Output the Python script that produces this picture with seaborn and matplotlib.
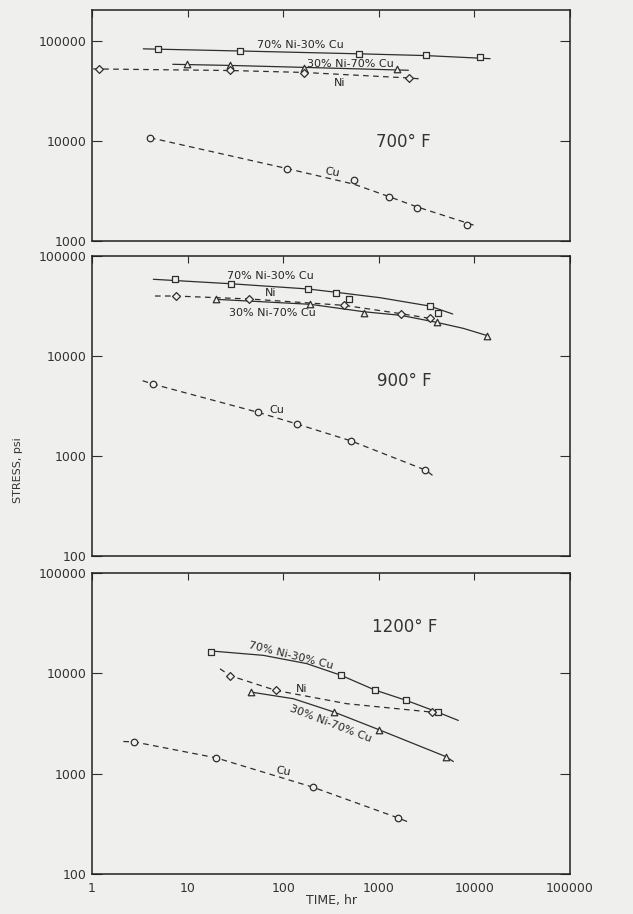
import matplotlib
matplotlib.use('Agg')
from matplotlib import pyplot as plt
from matplotlib.ticker import FixedLocator, NullLocator
import seaborn as sns

BG = '#efefed'
INK = '#2e2e2e'

# ---- 700 F ----
T700_A_X = [4.9, 35, 617, 3120, 11450]          # 70% Ni-30% Cu
T700_A_Y = [83000, 79400, 74100, 72000, 68700]
T700_A_LX = [3.44, 35, 617, 3120, 14600]
T700_A_LY = [83500, 79500, 74500, 71500, 66600]
T700_B_X = [9.9, 27.8, 165, 1540]               # 30% Ni-70% Cu
T700_B_Y = [59300, 57100, 54100, 52100]
T700_B_LX = [7.0, 27.8, 165, 2040]
T700_B_LY = [58500, 57000, 54500, 51000]
T700_NI_X = [1.18, 27.8, 165, 2070]
T700_NI_Y = [52500, 50900, 47900, 42400]
T700_NI_LX = [1.03, 27.8, 165, 2070, 2810]
T700_NI_LY = [52600, 50700, 48500, 42700, 41700]
T700_CU_X = [4.04, 110, 550, 1280, 2490, 8300]
T700_CU_Y = [10800, 5250, 4050, 2780, 2150, 1445]
T700_CU_LX = [4.04, 110, 550, 1280, 2490, 10600]
T700_CU_LY = [10800, 5300, 3700, 2780, 2200, 1410]

# ---- 900 F ----
T900_A_X = [7.4, 28.4, 182, 357, 492, 3400, 4130]
T900_A_Y = [58900, 52900, 46800, 43000, 36900, 31600, 26700]
T900_A_LX = [4.38, 28.4, 182, 356, 1030, 3400, 5930]
T900_A_LY = [58500, 52800, 46800, 43400, 38300, 31600, 26300]
T900_NI_X = [7.5, 44, 436, 1710, 3400]
T900_NI_Y = [39800, 37200, 32100, 26500, 23800]
T900_NI_LX = [4.56, 7.5, 44, 436, 1710, 3400, 3720]
T900_NI_LY = [39800, 39800, 37200, 32100, 26500, 23800, 23400]
T900_B_X = [19.7, 191, 700, 4030, 13600]
T900_B_Y = [36900, 32900, 26700, 21700, 16000]
T900_B_LX = [19.7, 191, 700, 1710, 4030, 7650, 13600]
T900_B_LY = [36900, 32900, 27700, 25500, 21700, 18900, 16000]
T900_CU_X = [4.3, 54.5, 139, 508, 3070]
T900_CU_Y = [5250, 2735, 2090, 1420, 724]
T900_CU_LX = [3.39, 4.3, 54.5, 139, 508, 3070, 3810]
T900_CU_LY = [5660, 5250, 2735, 2090, 1420, 724, 621]

# ---- 1200 F ----
T1200_A_X = [17.6, 403, 912, 1940, 4130]
T1200_A_Y = [16300, 9550, 6810, 5370, 4100]
T1200_A_LX = [17.6, 62, 176, 403, 912, 1940, 4130, 6790]
T1200_A_LY = [16700, 15100, 12500, 9550, 6810, 5370, 4100, 3390]
T1200_NI_X = [27.8, 83.5, 3630]
T1200_NI_Y = [9480, 6760, 4100]
T1200_NI_LX = [21.8, 27.8, 83.5, 461, 3630, 4190]
T1200_NI_LY = [11100, 9480, 6760, 4980, 4100, 4100]
T1200_B_X = [46, 343, 1005, 5010]
T1200_B_Y = [6500, 4100, 2740, 1480]
T1200_B_LX = [46, 128, 343, 1005, 5010, 6020]
T1200_B_LY = [6500, 5580, 4100, 2740, 1480, 1320]
T1200_CU_X = [2.75, 20, 207, 1578]
T1200_CU_Y = [2075, 1435, 730, 363]
T1200_CU_LX = [2.13, 2.75, 20, 207, 1578, 2090]
T1200_CU_LY = [2090, 2075, 1435, 730, 363, 326]

X_TICKS = [1, 10, 100, 1000, 10000, 100000]
X_TICK_LABELS = ['1', '10', '100', '1000', '10000', '100000']
Y_TICKS_700 = [1000, 10000, 100000]
Y_TICKS = [100, 1000, 10000, 100000]
LBL_A = '70% Ni-30% Cu'
LBL_B = '30% Ni-70% Cu'


def series(ax, x, y, lx, ly, marker, dashed, ms=22):
    sns.lineplot(x=lx, y=ly, ax=ax, estimator=None, sort=False, color=INK,
                 lw=0.9, dashes=False, linestyle=(0, (4.5, 3.5)) if dashed else '-')
    sns.scatterplot(x=x, y=y, ax=ax, marker=marker, s=ms, facecolor=BG,
                    edgecolor=INK, linewidth=0.9, zorder=3)


def frame(ax, ylim, yticks, bottom_labels=False):
    ax.set_xscale('log')
    ax.set_yscale('log')
    ax.set_xlim(1, 100000)
    ax.set_ylim(*ylim)
    ax.set_facecolor(BG)
    ax.xaxis.set_major_locator(FixedLocator(X_TICKS))
    ax.xaxis.set_minor_locator(NullLocator())
    ax.yaxis.set_major_locator(FixedLocator(yticks))
    ax.yaxis.set_minor_locator(NullLocator())
    ax.set_yticklabels([str(v) for v in yticks], fontsize=9, color='#333333')
    ax.set_xticklabels(X_TICK_LABELS, fontsize=9, color='#333333')
    ax.tick_params(axis='x', direction='in', top=True, bottom=False,
                   labelbottom=bottom_labels, length=5, width=0.8, color=INK)
    ax.tick_params(axis='y', direction='in', left=True, right=True,
                   length=7, width=0.8, color=INK, pad=4)
    for s in ax.spines.values():
        s.set_color('#222222')
        s.set_linewidth(1.1)
    ax.set_xlabel('')
    ax.set_ylabel('')


sns.set_style('ticks')
plt.rcParams['font.family'] = ['DejaVu Sans']
fig = plt.figure(figsize=(6.33, 9.14), dpi=100, facecolor=BG)

ax1 = fig.add_axes([0.1453, 0.7363, 0.7552, 0.2527])
ax2 = fig.add_axes([0.1453, 0.3917, 0.7552, 0.3282])
ax3 = fig.add_axes([0.1453, 0.0438, 0.7552, 0.3293])

# 700 F
series(ax1, T700_A_X, T700_A_Y, T700_A_LX, T700_A_LY, 's', False)
series(ax1, T700_B_X, T700_B_Y, T700_B_LX, T700_B_LY, '^', False)
series(ax1, T700_NI_X, T700_NI_Y, T700_NI_LX, T700_NI_LY, 'D', True, 16)
series(ax1, T700_CU_X, T700_CU_Y, T700_CU_LX, T700_CU_LY, 'o', True)
frame(ax1, (1000, 204000), Y_TICKS_700)
ax1.text(153, 91200, LBL_A, ha='center', va='center', fontsize=8)
ax1.text(500, 58500, LBL_B, ha='center', va='center', fontsize=8)
ax1.text(393, 38000, 'Ni', ha='center', va='center', fontsize=8)
ax1.text(1790, 9770, '700° F', ha='center', va='center', fontsize=12, color='#333333')
ax1.text(324, 4900, 'Cu', ha='center', va='center', fontsize=8, rotation=-10)

# 900 F
series(ax2, T900_A_X, T900_A_Y, T900_A_LX, T900_A_LY, 's', False)
series(ax2, T900_NI_X, T900_NI_Y, T900_NI_LX, T900_NI_LY, 'D', True, 16)
series(ax2, T900_B_X, T900_B_Y, T900_B_LX, T900_B_LY, '^', False)
series(ax2, T900_CU_X, T900_CU_Y, T900_CU_LX, T900_CU_LY, 'o', True)
frame(ax2, (100, 100000), Y_TICKS)
ax2.text(72.8, 62500, LBL_A, ha='center', va='center', fontsize=8)
ax2.text(74.5, 42500, 'Ni', ha='center', va='center', fontsize=8)
ax2.text(76.4, 26900, LBL_B, ha='center', va='center', fontsize=8)
ax2.text(1835, 5620, '900° F', ha='center', va='center', fontsize=12, color='#333333')
ax2.text(86, 2900, 'Cu', ha='center', va='center', fontsize=8)

# 1200 F
series(ax3, T1200_A_X, T1200_A_Y, T1200_A_LX, T1200_A_LY, 's', False)
series(ax3, T1200_NI_X, T1200_NI_Y, T1200_NI_LX, T1200_NI_LY, 'D', True, 16)
series(ax3, T1200_B_X, T1200_B_Y, T1200_B_LX, T1200_B_LY, '^', False)
series(ax3, T1200_CU_X, T1200_CU_Y, T1200_CU_LX, T1200_CU_LY, 'o', True)
frame(ax3, (100, 100000), Y_TICKS, bottom_labels=True)
ax3.tick_params(axis='x', pad=6)
ax3.text(1880, 28800, '1200° F', ha='center', va='center', fontsize=12, color='#333333')
ax3.text(121, 15100, LBL_A, ha='center', va='center', fontsize=8, rotation=-14)
ax3.text(157, 6920, 'Ni', ha='center', va='center', fontsize=8)
ax3.text(316, 3160, LBL_B, ha='center', va='center', fontsize=8, rotation=-21)
ax3.text(99.5, 1047, 'Cu', ha='center', va='center', fontsize=8, rotation=-10)

fig.text(0.523, 0.008, 'TIME, hr', ha='center', va='bottom', fontsize=9, color='#333333')
fig.text(0.028, 0.486, 'STRESS, psi', ha='center', va='center', rotation=90,
         fontsize=8, color='#333333')

fig.savefig('out.png', dpi=100, facecolor=BG)
